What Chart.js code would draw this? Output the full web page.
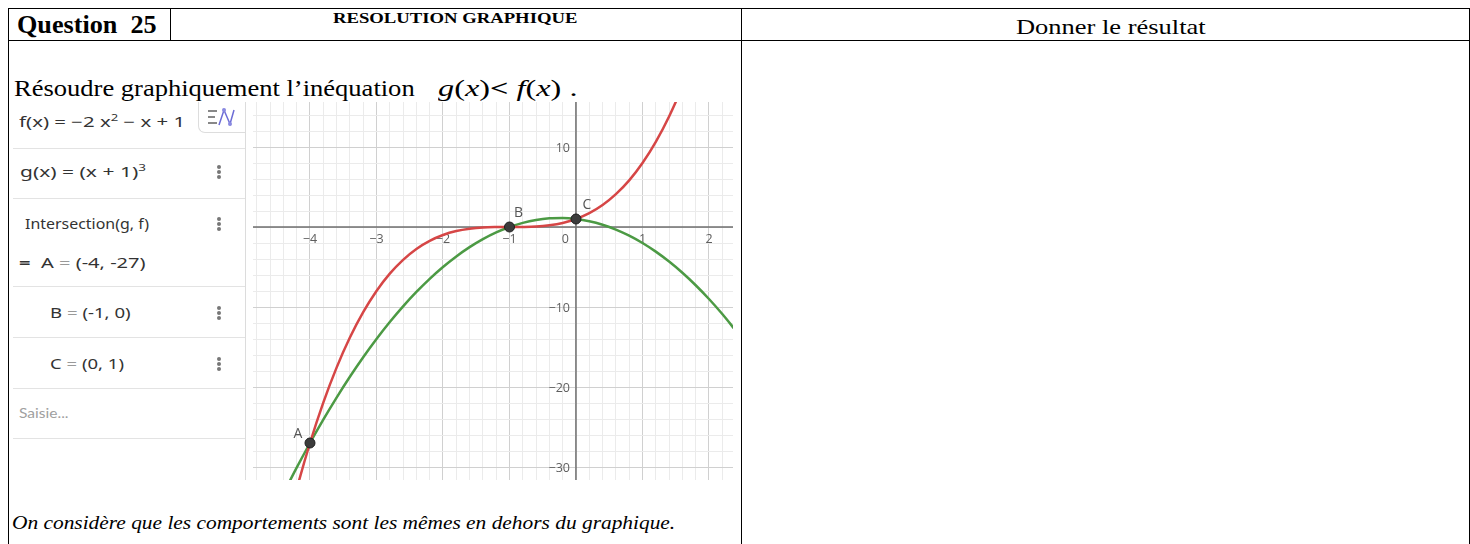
<!DOCTYPE html>
<html lang="fr">
<head>
<meta charset="utf-8">
<title>Question 25</title>
<script src="https://cdn.jsdelivr.net/npm/chart.js@4.4.1/dist/chart.umd.min.js"></script>
<style>
  body { margin: 0; background: #fff; }
  #page { position: relative; width: 1470px; height: 544px; overflow: hidden; font-family: "Liberation Serif", "Times New Roman", serif; color: #000; }
  .ln { position: absolute; background: #000; }
  .t { position: absolute; white-space: nowrap; transform-origin: 0 50%; }
  #panel { position: absolute; left: 9px; top: 102px; width: 236px; height: 378px; background: #fff; font-family: "Noto Sans", sans-serif; color: #333; border-right: 1px solid #dcdcdc; }
  #panel .t { font-size: 14px; line-height: 14px; }
  .sep { position: absolute; left: 4px; right: 0; height: 1px; background: #e3e3e3; }
  .dots { position: absolute; width: 4px; height: 14px; }
  .dots i { display: block; width: 4px; height: 4px; border-radius: 50%; background: #777; margin-bottom: 1px; }
  #icon { position: absolute; left: 189px; top: 0; width: 46px; height: 30px; border-left: 1px solid #ddd; border-bottom: 1px solid #ddd; border-bottom-left-radius: 7px; }
  #graph { position: absolute; left: 253px; top: 102px; }
</style>
</head>
<body>
<div id="page">
  <!-- table -->
  <div class="ln" style="left:8px;top:8px;width:1462px;height:1px"></div>
  <div class="ln" style="left:8px;top:40px;width:1462px;height:1px"></div>
  <div class="ln" style="left:8px;top:8px;width:1px;height:536px"></div>
  <div class="ln" style="left:170px;top:8px;width:1px;height:32px"></div>
  <div class="ln" style="left:741px;top:8px;width:1px;height:536px"></div>
  <div class="ln" style="left:1469px;top:8px;width:1px;height:536px"></div>

  <div class="t" data-w="140" style="left:17px;top:12px;font-size:26px;line-height:26px;font-weight:bold">Question&nbsp; 25</div>
  <div class="t" data-w="244" style="left:333px;top:11px;font-size:15px;line-height:15px;font-weight:bold">RESOLUTION GRAPHIQUE</div>
  <div class="t" data-w="190" style="left:1016px;top:16px;font-size:22px;line-height:22px">Donner le résultat</div>

  <div class="t" data-w="401" style="left:14px;top:76px;font-size:24px;line-height:24px">Résoudre graphiquement l’inéquation</div>
  <div class="t" data-w="140" style="left:438px;top:76px;font-size:24px;line-height:24px"><i>g</i>(<i>x</i>)<b>&lt;</b> <i>f</i>(<i>x</i>) .</div>

  <div class="t" data-w="663" style="left:12px;top:514px;font-size:18px;line-height:18px;font-style:italic">On considère que les comportements sont les mêmes en dehors du graphique.</div>

  <!-- algebra view -->
  <div id="panel">
    <div id="icon">
      <svg width="46" height="30">
        <g stroke="#888" stroke-width="2"><line x1="9" y1="9" x2="18" y2="9"/><line x1="9" y1="15" x2="16" y2="15"/><line x1="9" y1="21" x2="18" y2="21"/></g>
        <polyline points="20,23 25,8 31,22 35,8" fill="none" stroke="#6d6dd6" stroke-width="1.5"/>
        <g fill="#8a8ae0"><circle cx="25" cy="8" r="2"/><circle cx="31" cy="22" r="2"/></g>
      </svg>
    </div>
    <div class="t" data-w="166" style="left:10px;top:13px">f(x) = −2 x<sup style="font-size:9px;line-height:0">2</sup> − x + 1</div>
    <div class="sep" style="top:46px"></div>
    <div class="t" data-w="126" style="left:11px;top:63px">g(x) = (x + 1)<sup style="font-size:9px;line-height:0">3</sup></div>
    <div class="sep" style="top:96px"></div>
    <div class="t" data-w="124" style="left:16px;top:115px">Intersection(g, f)</div>
    <div class="t" data-w="126" style="left:10px;top:154px"><b>=</b>&nbsp; A <span style="color:#999">=</span> (-4, -27)</div>
    <div class="sep" style="top:184px"></div>
    <div class="t" data-w="81" style="left:41px;top:204px">B <span style="color:#999">=</span> (-1, 0)</div>
    <div class="sep" style="top:235px"></div>
    <div class="t" data-w="74" style="left:41px;top:255px">C <span style="color:#999">=</span> (0, 1)</div>
    <div class="sep" style="top:286px"></div>
    <div class="t" data-w="50" style="left:10px;top:304px;color:#a0a0a0;font-family:Lato,sans-serif">Saisie...</div>
    <div class="sep" style="top:336px"></div>
    <div class="dots" style="left:208px;top:63px"><i></i><i></i><i></i></div>
    <div class="dots" style="left:208px;top:115px"><i></i><i></i><i></i></div>
    <div class="dots" style="left:208px;top:204px"><i></i><i></i><i></i></div>
    <div class="dots" style="left:208px;top:255px"><i></i><i></i><i></i></div>
  </div>

  <canvas id="graph" width="480" height="378"></canvas>
</div>

<script>
// values
const xs = [-4.4, -4.2, -4.0, -3.8, -3.6, -3.4, -3.2, -3.0, -2.8, -2.6, -2.4, -2.2, -2.0, -1.8, -1.6, -1.4, -1.2, -1.0,
  -0.8, -0.6, -0.4, -0.2, 0, 0.2, 0.4, 0.6, 0.8, 1.0, 1.2, 1.4, 1.6, 1.8, 2.0, 2.2, 2.4];
// f(x) = -2x² - x + 1 (green)
const fVals = [-33.32, -30.08, -27, -24.08, -21.32, -18.72, -16.28, -14, -11.88, -9.92, -8.12, -6.48, -5, -3.68, -2.52, -1.52, -0.68, 0,
  0.52, 0.88, 1.08, 1.12, 1, 0.72, 0.28, -0.32, -1.08, -2, -3.08, -4.32, -5.72, -7.28, -9, -10.88, -12.92];
// g(x) = (x+1)³ (red)
const gVals = [-39.3, -32.77, -27, -21.95, -17.58, -13.82, -10.65, -8, -5.83, -4.1, -2.74, -1.73, -1, -0.51, -0.22, -0.06, -0.01, 0,
  0.01, 0.06, 0.22, 0.51, 1, 1.73, 2.74, 4.1, 5.83, 8, 10.65, 13.82, 17.58, 21.95, 27, 32.77, 39.3];

const pointNames = ['A', 'B', 'C'];
const pointX = [-4, -1, 0];
const pointY = [-27, 0, 1];

const xTicks = [-4, -3, -2, -1, 0, 1, 2];
const yTicks = [10, -10, -20, -30];

// stretch html texts to the widths of the scanned page
document.querySelectorAll('[data-w]').forEach(function(el) {
  var s = +el.dataset.w / el.offsetWidth;
  el.style.transform = 'scaleX(' + s.toFixed(3) + ')';
});

function gridColor(step) {
  return function(c) {
    var v = c.tick ? c.tick.value / step : 0.5;
    return Math.abs(v - Math.round(v)) < 1e-6 ? '#d0d0d0' : '#ebebeb';
  };
}

function minus(v) {
  return v < 0 ? '\u2212' + Math.abs(v) : String(v);
}

// axes, tick labels and point names drawn like geogebra
const ggbAxes = {
  id: 'ggbAxes',
  beforeDatasetsDraw(chart) {
    const ctx = chart.ctx, a = chart.chartArea;
    const sx = chart.scales.x, sy = chart.scales.y;
    const x0 = sx.getPixelForValue(0), y0 = sy.getPixelForValue(0);
    ctx.save();
    ctx.strokeStyle = '#707070';
    ctx.lineWidth = 1.5;
    ctx.beginPath();
    ctx.moveTo(a.left, y0); ctx.lineTo(a.right, y0);
    ctx.moveTo(x0, a.top); ctx.lineTo(x0, a.bottom);
    ctx.stroke();

    ctx.fillStyle = '#5e5e5e';
    ctx.font = '12.5px "Open Sans", sans-serif';
    ctx.textBaseline = 'top';
    xTicks.forEach(function(v) {
      if (v === 0) {
        ctx.textAlign = 'right';
        ctx.fillText('0', x0 - 7, y0 + 6);
      } else {
        ctx.textAlign = 'center';
        ctx.fillText(minus(v), sx.getPixelForValue(v), y0 + 6);
      }
    });
    ctx.textAlign = 'right';
    ctx.textBaseline = 'middle';
    yTicks.forEach(function(v) {
      ctx.fillText(minus(v), x0 - 6, sy.getPixelForValue(v) + 1);
    });
    ctx.restore();
  },
  afterDatasetsDraw(chart) {
    const ctx = chart.ctx;
    const sx = chart.scales.x, sy = chart.scales.y;
    const off = { A: [-12, -9], B: [9, -14], C: [11, -14] };
    ctx.save();
    ctx.fillStyle = '#555';
    ctx.font = '14px "Open Sans", sans-serif';
    ctx.textAlign = 'center';
    ctx.textBaseline = 'middle';
    pointNames.forEach(function(n, i) {
      ctx.fillText(n, sx.getPixelForValue(pointX[i]) + off[n][0], sy.getPixelForValue(pointY[i]) + off[n][1]);
    });
    ctx.restore();
  }
};

const toXY = ys => xs.map((x, i) => ({ x: x, y: ys[i] }));

new Chart(document.getElementById('graph'), {
  type: 'line',
  data: {
    datasets: [{
      label: 'points',
      data: pointX.map((x, i) => ({ x: x, y: pointY[i] })),
      showLine: false,
      pointRadius: 5,
      pointBackgroundColor: '#3c3c3c',
      pointBorderColor: '#1e1e1e',
      pointBorderWidth: 1
    }, {
      label: 'g',
      data: toXY(gVals),
      borderColor: '#d64646',
      borderWidth: 2.5,
      pointRadius: 0,
      cubicInterpolationMode: 'monotone'
    }, {
      label: 'f',
      data: toXY(fVals),
      borderColor: '#4c9a44',
      borderWidth: 2.5,
      pointRadius: 0,
      cubicInterpolationMode: 'monotone'
    }]
  },
  options: {
    responsive: false,
    animation: false,
    devicePixelRatio: 1,
    layout: { padding: 0, autoPadding: false },
    plugins: { legend: { display: false }, tooltip: { enabled: false } },
    scales: {
      x: {
        type: 'linear', min: -4.857, max: 2.361,
        ticks: { display: false, stepSize: 0.2, includeBounds: false },
        grid: { color: gridColor(1), drawTicks: false },
        border: { display: false }
      },
      y: {
        type: 'linear', min: -31.625, max: 15.625,
        ticks: { display: false, stepSize: 2, includeBounds: false },
        grid: { color: gridColor(10), drawTicks: false },
        border: { display: false }
      }
    }
  },
  plugins: [ggbAxes]
});
</script>
</body>
</html>
